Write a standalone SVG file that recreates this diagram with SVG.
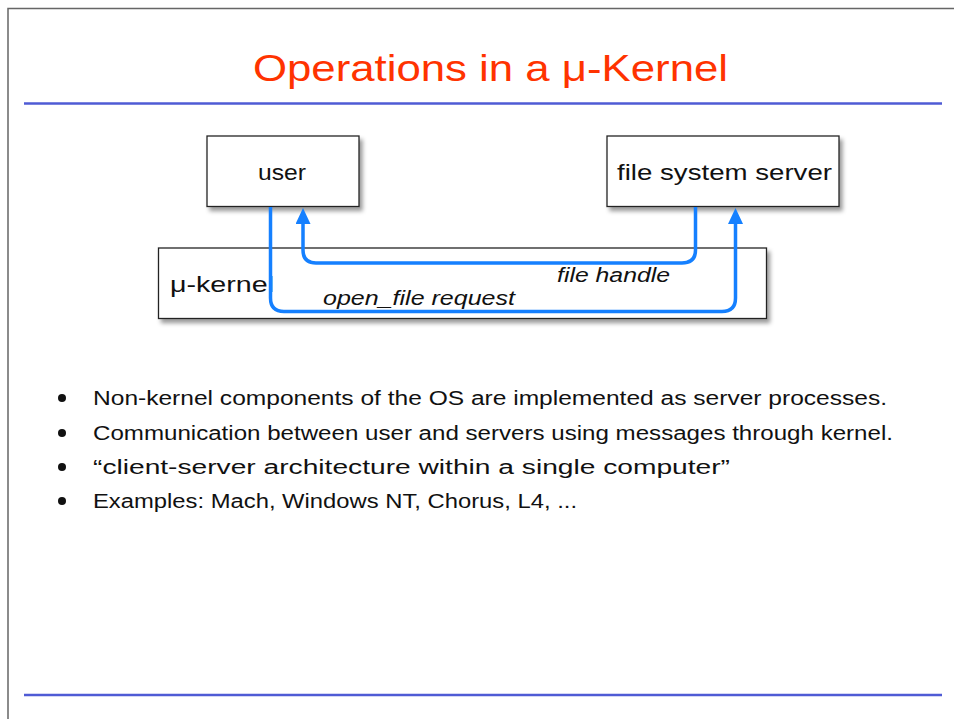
<svg xmlns="http://www.w3.org/2000/svg" width="954" height="719" viewBox="0 0 954 719">
<style>
.frame{fill:none;stroke:#666;stroke-width:1.5}
.rule{stroke:#4F5BD5;stroke-width:2.5}
.title{font-family:"Liberation Sans",Arial,sans-serif;font-size:37px;fill:#FF3300}
.box{fill:#fff;stroke:#222;stroke-width:1.3}
.lbl{font-family:"Liberation Sans",Arial,sans-serif;font-size:22px;fill:#111}
.ital{font-family:"Liberation Sans",Arial,sans-serif;font-size:20px;font-style:italic;fill:#111}
.conn{fill:none;stroke:#1580FF;stroke-width:3.5}
.bul{font-family:"Liberation Sans",Arial,sans-serif;font-size:20px;fill:#111}
.dot{fill:#111}
</style>
<defs>
<filter id="sh" x="-10%" y="-20%" width="130%" height="150%">
<feDropShadow dx="3" dy="4" stdDeviation="2" flood-color="#000" flood-opacity="0.4"/>
</filter>
<marker id="ah" viewBox="0 0 16 15" refX="0" refY="7.5" markerWidth="16" markerHeight="15" markerUnits="userSpaceOnUse" orient="auto">
<path d="M0,0 L16,7.5 L0,15 Z" fill="#1580FF"/>
</marker>
</defs>
<rect x="0" y="0" width="954" height="719" fill="#fff"/>
<path class="frame" d="M8,719 V8.5 H954"/>
<text class="title" x="253" y="81" textLength="475" lengthAdjust="spacingAndGlyphs">Operations in a μ-Kernel</text>
<line class="rule" x1="24" y1="103.5" x2="942" y2="103.5"/>
<line class="rule" x1="24" y1="695" x2="942" y2="695"/>

<g id="node-kernel">
<rect class="box" x="158.5" y="248" width="608" height="70.5" filter="url(#sh)"/>
<text class="lbl" x="170" y="292" textLength="104" lengthAdjust="spacingAndGlyphs">μ-kernel</text>
</g>
<g id="node-user">
<rect class="box" x="207" y="136" width="152" height="70.5" filter="url(#sh)"/>
<text class="lbl" x="258" y="180" textLength="48" lengthAdjust="spacingAndGlyphs">user</text>
</g>
<g id="node-fs">
<rect class="box" x="607" y="136" width="232" height="70.5" filter="url(#sh)"/>
<text class="lbl" x="617" y="180" textLength="215" lengthAdjust="spacingAndGlyphs">file system server</text>
</g>

<g id="connectors">
<path class="conn" d="M270.5,207 V298 Q270.5,311.5 284,311.5 H722 Q735.5,311.5 735.5,298 V224" marker-end="url(#ah)"/>
<path class="conn" d="M695.5,207 V250 Q695.5,263 682,263 H316 Q303,263 303,250 V224" marker-end="url(#ah)"/>
<text class="ital" x="557" y="282" textLength="113" lengthAdjust="spacingAndGlyphs">file handle</text>
<text class="ital" x="323" y="305" textLength="192" lengthAdjust="spacingAndGlyphs">open_file request</text>
</g>

<g id="bullets">
<circle class="dot" cx="62" cy="398" r="4"/>
<text class="bul" x="93" y="405" textLength="794" lengthAdjust="spacingAndGlyphs">Non-kernel components of the OS are implemented as server processes.</text>
<circle class="dot" cx="62" cy="433" r="4"/>
<text class="bul" x="93" y="440" textLength="800" lengthAdjust="spacingAndGlyphs">Communication between user and servers using messages through kernel.</text>
<circle class="dot" cx="62" cy="467" r="4"/>
<text class="bul" x="93" y="474" textLength="637" lengthAdjust="spacingAndGlyphs">“client-server architecture within a single computer”</text>
<circle class="dot" cx="62" cy="501" r="4"/>
<text class="bul" x="93" y="508" textLength="484" lengthAdjust="spacingAndGlyphs">Examples: Mach, Windows NT, Chorus, L4, ...</text>
</g>
</svg>
